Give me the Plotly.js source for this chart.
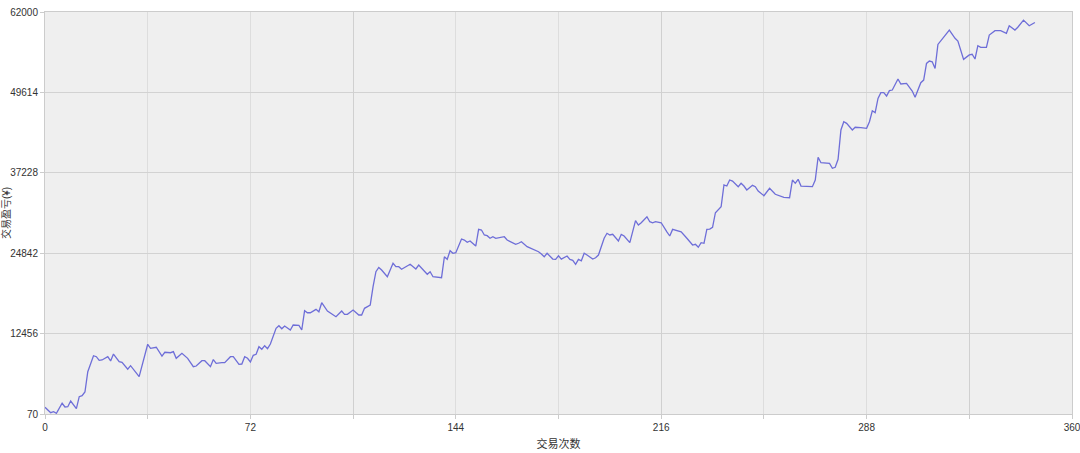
<!DOCTYPE html>
<html>
<head>
<meta charset="utf-8">
<script src="https://cdn.plot.ly/plotly-3.0.1.min.js"></script>
<style>html,body{margin:0;padding:0;background:#fff;}#chart{width:1080px;height:453px;}</style>
</head>
<body>
<div id="chart"></div>
<script>
// Trade number (x) and cumulative P&L (y)
const trade = [0,2,3,4,6,7,8,9,11,12,13,14,15,17,18,19,20,22,23,24,26,27,29,30,33,36,37,39,41,42,44,45,46,48,50,52,53,55,56,58,59,
60,62,63,65,66,68,69,70,71,72,73,74,75,76,77,78,79,81,82,83,84,86,87,89,90,91,92,93,95,96,97,99,102,104,105,106,108,110,111,112,114,115,116,117,
118,120,122,123,124,125,128,130,131,134,135,136,139,140,141,142,143,144,146,147,148,149,151,152,153,154,155,156,157,158,161,162,165,166,167,169,171,173,174,175,
176,178,179,180,181,183,184,185,186,187,188,189,190,192,193,194,196,197,198,199,201,202,203,205,207,208,209,211,212,213,214,216,218,219,220,221,223,225,227,228,229,230,231,232,233,
234,235,237,238,239,240,241,243,244,245,246,248,249,250,252,254,256,258,259,261,262,263,264,265,267,269,270,271,272,275,276,277,278,279,280,281,283,284,286,288,289,290,291,
292,293,294,295,296,297,299,300,302,304,305,307,308,309,310,311,312,313,317,319,320,322,324,325,326,327,328,330,331,333,335,337,338,340,341,343,345,347];
const pnl = [1100,270,420,180,1720,1150,1190,2070,890,2740,2890,3460,6590,9050,8900,8340,8390,8900,8240,9310,8130,8030,6960,7510,5820,10810,10190,10350,9000,9580,9510,9670,8650,9420,8650,7360,7460,8280,8280,7360,8450,
7880,7970,7970,8900,8900,7730,7770,8900,8650,8080,9110,9270,10440,10040,10590,10130,10850,13270,13670,13210,13630,13010,13780,13730,13010,15980,15670,15670,16190,15820,17210,15930,15060,15930,15420,15420,16090,15320,15320,16350,16860,19680,21990,22650,
22250,21220,23290,22760,22760,22360,23130,22410,23020,21590,21990,21220,21070,24300,23900,25230,24830,24920,27030,26870,26520,26720,25940,28510,28410,27650,27540,27140,27380,27140,27380,26870,26210,26370,26610,25840,25440,25070,24720,24300,
24830,23940,23890,24450,23940,24410,23890,23750,23130,23890,23680,24830,24560,23940,24140,24560,27140,27910,27650,27750,26720,27750,27490,26460,29850,29180,29530,30460,29690,29530,29690,29530,28140,27490,28510,28410,28140,27140,26100,26210,25750,26460,26370,28510,28560,
28830,31080,32000,35350,35190,36120,35960,35090,35610,35190,34580,35300,35090,34420,33700,34840,33920,33650,33450,33390,36120,35610,36230,35190,35090,35090,36120,39620,38780,38690,37920,38070,39310,43820,45100,44850,43820,44240,44180,44080,45100,46790,46490,
48690,49570,49570,49060,49880,49980,51680,50910,51010,49830,48860,51110,51510,54080,54450,54330,53310,57010,59220,57950,57530,54710,55380,55490,54760,56810,56560,56560,58450,59120,59120,58720,59890,59220,59650,60750,59890,60390];
const yTicks = [70,12456,24842,37228,49614,62000];
const xTitle = '交易次数';
const yTitle = '交易盈亏(¥)';

const fontFam = 'Arial, "Liberation Sans", "Noto Sans CJK SC", sans-serif';

const data = [
  {x: trade, y: pnl, type: 'scatter', mode: 'lines',
   line: {color: '#6e6ed8', width: 1.3}, hoverinfo: 'skip', showlegend: false},
  // invisible helper trace on a second x axis to carry the darker grid lines
  {x: [0, 360], y: [70, 70], xaxis: 'x2', type: 'scatter', mode: 'lines',
   line: {width: 0}, opacity: 0, hoverinfo: 'skip', showlegend: false}
];

const layout = {
  width: 1080, height: 453,
  margin: {l: 45, r: 8, t: 12, b: 39},
  paper_bgcolor: '#ffffff',
  plot_bgcolor: '#efefef',
  font: {family: fontFam, size: 10, color: '#333333'},
  showlegend: false,
  xaxis: {
    range: [0, 360], tick0: 0, dtick: 72, tickmode: 'linear',
    ticklabeloverflow: 'allow',
    showgrid: true, gridcolor: '#dddddd', gridwidth: 1,
    minor: {dtick: 36, tick0: 0, showgrid: true, gridcolor: '#dddddd', ticks: 'outside', ticklen: 4, tickcolor: '#cccccc'},
    ticks: 'outside', ticklen: 4, tickcolor: '#cccccc',
    zeroline: false, showline: true, linecolor: '#cccccc', mirror: true,
    tickfont: {size: 10, color: '#333333'},
    title: {text: xTitle, font: {size: 11, color: '#333333'}, standoff: 8}
  },
  xaxis2: {
    overlaying: 'x', range: [0, 360], tick0: 108, dtick: 108, tickmode: 'linear',
    showgrid: true, gridcolor: '#d0d0d0', gridwidth: 1.2,
    showticklabels: false, ticks: '', zeroline: false, showline: false
  },
  yaxis: {
    range: [70, 62000], tickmode: 'array', tickvals: yTicks, ticktext: yTicks.map(String),
    showgrid: true, gridcolor: '#d2d2d2', gridwidth: 1,
    ticks: 'outside', ticklen: 4, tickcolor: '#cccccc',
    zeroline: false, showline: true, linecolor: '#cccccc', mirror: true,
    tickfont: {size: 10, color: '#333333'},
    title: {text: yTitle, font: {size: 10, color: '#333333'}, standoff: 4}
  }
};

Plotly.newPlot('chart', data, layout, {staticPlot: true, displayModeBar: false});
</script>
</body>
</html>
